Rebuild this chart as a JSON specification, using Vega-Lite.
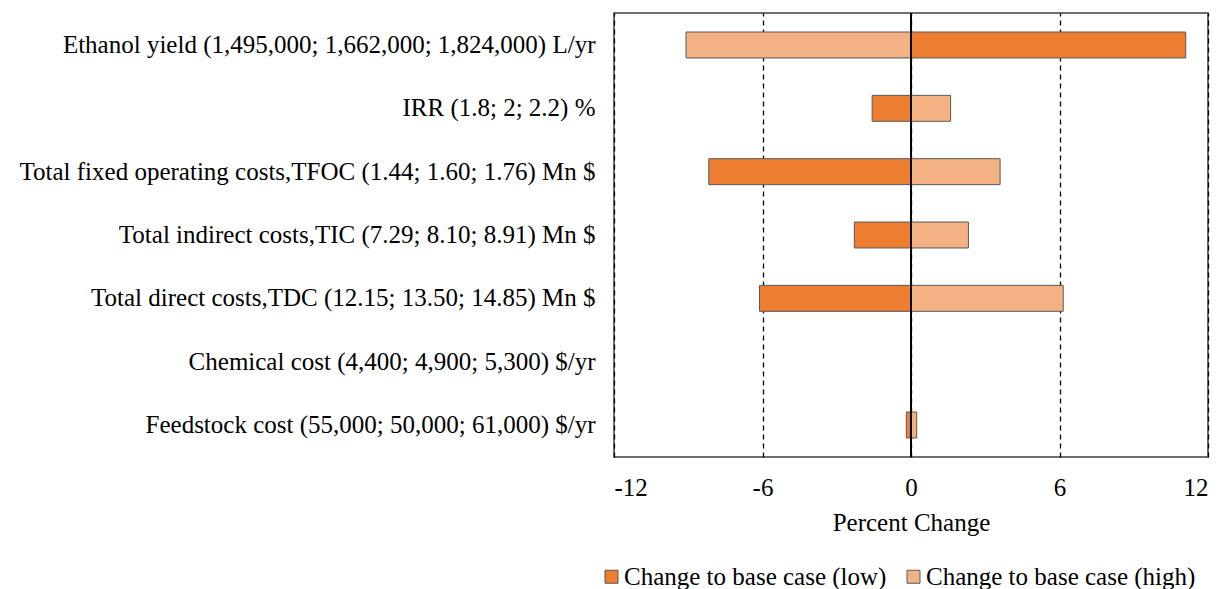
{
  "$schema": "https://vega.github.io/schema/vega-lite/v6.json",
  "autosize": {"type": "none"},
  "width": 594,
  "height": 444,
  "padding": {"left": 614, "top": 13, "right": 11, "bottom": 132},
  "background": "white",
  "config": {
    "font": "Liberation Serif",
    "view": {"stroke": "#404040", "strokeWidth": 1.5}
  },
  "data": {
    "values": [
      {"factor": "Ethanol yield (1,495,000; 1,662,000; 1,824,000) L/yr", "case": "Change to base case (low)", "value": 11.1},
      {"factor": "Ethanol yield (1,495,000; 1,662,000; 1,824,000) L/yr", "case": "Change to base case (high)", "value": -9.09},
      {"factor": "IRR (1.8; 2; 2.2) %", "case": "Change to base case (low)", "value": -1.57},
      {"factor": "IRR (1.8; 2; 2.2) %", "case": "Change to base case (high)", "value": 1.6},
      {"factor": "Total fixed operating costs,TFOC (1.44; 1.60; 1.76) Mn $", "case": "Change to base case (low)", "value": -8.17},
      {"factor": "Total fixed operating costs,TFOC (1.44; 1.60; 1.76) Mn $", "case": "Change to base case (high)", "value": 3.6},
      {"factor": "Total indirect costs,TIC (7.29; 8.10; 8.91) Mn $", "case": "Change to base case (low)", "value": -2.29},
      {"factor": "Total indirect costs,TIC (7.29; 8.10; 8.91) Mn $", "case": "Change to base case (high)", "value": 2.32},
      {"factor": "Total direct costs,TDC (12.15; 13.50; 14.85)  Mn $", "case": "Change to base case (low)", "value": -6.12},
      {"factor": "Total direct costs,TDC (12.15; 13.50; 14.85)  Mn $", "case": "Change to base case (high)", "value": 6.15},
      {"factor": "Chemical cost (4,400; 4,900; 5,300) $/yr", "case": "Change to base case (low)", "value": 0},
      {"factor": "Chemical cost (4,400; 4,900; 5,300) $/yr", "case": "Change to base case (high)", "value": 0},
      {"factor": "Feedstock cost (55,000; 50,000; 61,000) $/yr", "case": "Change to base case (low)", "value": -0.19},
      {"factor": "Feedstock cost (55,000; 50,000; 61,000) $/yr", "case": "Change to base case (high)", "value": 0.23}
    ]
  },
  "layer": [
    {
      "mark": {"type": "bar", "stroke": "#595959", "strokeWidth": 1},
      "encoding": {
        "y": {
          "field": "factor",
          "type": "nominal",
          "sort": null,
          "scale": {"paddingInner": 0.59, "paddingOuter": 0.3},
          "axis": {
            "title": null,
            "labelFontSize": 25,
            "labelColor": "black",
            "labelPadding": 19,
            "ticks": false,
            "domain": false,
            "labelLimit": 700
          }
        },
        "x": {
          "field": "value",
          "type": "quantitative",
          "scale": {"domain": [-12, 12], "nice": false, "zero": true},
          "axis": {
            "values": [-12, -6, 0, 6, 12],
            "labelExpr": "'' + datum.value",
            "title": "Percent Change",
            "titleFontSize": 25,
            "titleFontWeight": "normal",
            "titleColor": "black",
            "titlePadding": 10,
            "labelFontSize": 25,
            "labelColor": "black",
            "labelPadding": 18,
            "ticks": false,
            "domain": false,
            "grid": true,
            "gridColor": "black",
            "gridDash": [5, 4],
            "gridWidth": 1.3
          }
        },
        "color": {
          "field": "case",
          "type": "nominal",
          "scale": {
            "domain": ["Change to base case (low)", "Change to base case (high)"],
            "range": ["#ED7D31", "#F4B183"]
          },
          "legend": {
            "title": null,
            "orient": "none",
            "direction": "horizontal",
            "legendX": -15,
            "legendY": 551,
            "symbolType": "square",
            "symbolSize": 169,
            "symbolStrokeColor": "#595959",
            "symbolStrokeWidth": 1,
            "labelFontSize": 25,
            "labelColor": "black",
            "labelOffset": 0,
            "labelLimit": 400,
            "columnPadding": 14
          }
        }
      }
    },
    {
      "mark": {"type": "rule", "color": "black", "strokeWidth": 2},
      "encoding": {"x": {"datum": 0, "type": "quantitative"}}
    }
  ]
}
